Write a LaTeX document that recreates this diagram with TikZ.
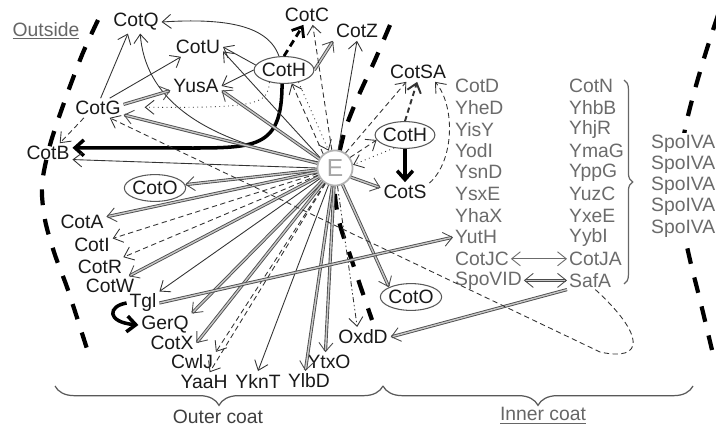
\documentclass[tikz,border=0pt]{standalone}
\usepackage{fontspec}
\setmainfont{Liberation Sans}
\usetikzlibrary{arrows.meta, shapes.geometric, decorations.pathreplacing}

\definecolor{labelgray}{gray}{0.42}
\definecolor{linegray}{gray}{0.2}

\tikzset{
  lbl/.style={font=\fontsize{11}{13}\selectfont, inner sep=1.5pt, text=black!90},
  graylbl/.style={lbl, text=labelgray, anchor=west, inner sep=1pt},
  ringlbl/.style={lbl, draw=black!65, line width=0.6pt, ellipse, inner xsep=-0.5pt, inner ysep=1.5pt, fill=white},
  barb/.style={-{Straight Barb[length=5pt,width=8pt]}},
  twobarb/.style={{Straight Barb[length=5pt,width=8pt]}-{Straight Barb[length=5pt,width=8pt]}},
  plainarr/.style={barb, draw=linegray, line width=0.5pt},
  dasharr/.style={plainarr, dash pattern=on 3pt off 2pt},
  dotarr/.style={plainarr, dotted},
  dashdotarr/.style={plainarr, dash pattern=on 3pt off 1.5pt on 0.8pt off 1.5pt on 0.8pt off 1.5pt},
  dblarr/.style={barb, draw=black!70, double=black!22, double distance=0.8pt, line width=0.5pt},
  heavyarr/.style={-{Straight Barb[length=5pt,width=9pt]}, draw=black, line width=2pt},
  heavydash/.style={barb, draw=black, line width=1.6pt, dash pattern=on 4pt off 2.5pt},
  layerline/.style={draw=black, line width=2.4pt, dash pattern=on 9pt off 8pt},
  coatbrace/.style={decorate, decoration={brace, amplitude=11pt, mirror}, draw=black!65, line width=0.7pt},
}

\begin{document}
\begin{tikzpicture}[x=0.02cm, y=-0.02cm]
    \useasboundingbox (0,0) rectangle (716,429);

    % Layer boundaries
    \draw[layerline] plot[smooth] coordinates {(98,20) (82,55) (65,100) (50,145) (42,185) (45,220) (55,255) (68,290) (88,352)};
    \draw[layerline] plot[smooth] coordinates {(390,25) (375,60) (358,97) (345,130) (337,165) (335,195) (340,225) (350,255) (360,285) (372,320)};
    \draw[layerline] plot[smooth] coordinates {(718,15) (705,55) (692,100) (684,135) (680,180) (683,225) (690,260) (700,300) (712,350)};

    % Outer coat proteins
    \node[lbl, text=black!60] (Outside) at (46,31) {\underline{Outside}};
    \node[lbl] (CotQ) at (136,22) {CotQ};
    \node[lbl] (CotU) at (198,47) {CotU};
    \node[lbl] (YusA) at (196,86) {YusA};
    \node[lbl] (CotG) at (98,108) {CotG};
    \node[lbl] (CotB) at (48,153) {CotB};
    \node[ringlbl] (CotO1) at (155,188) {CotO};
    \node[lbl] (CotC) at (307,15) {CotC};
    \node[lbl] (CotZ) at (357,31) {CotZ};
    \node[ringlbl] (CotH1) at (284,70) {CotH};
    \node[lbl] (CotA) at (82,222) {CotA};
    \node[lbl] (CotI) at (92,245) {CotI};
    \node[lbl] (CotR) at (100,267) {CotR};
    \node[lbl] (CotW) at (110,286) {CotW};
    \node[lbl] (Tgl) at (143,303) {Tgl};
    \node[lbl] (GerQ) at (165,325) {GerQ};
    \node[lbl] (CotX) at (172,343) {CotX};
    \node[lbl] (CwlJ) at (192,362) {CwlJ};
    \node[lbl] (YaaH) at (204,382) {YaaH};
    \node[lbl] (YknT) at (258,381) {YknT};
    \node[lbl] (YlbD) at (309,381) {YlbD};
    \node[lbl] (YtxO) at (329,362) {YtxO};
    \node[lbl] (OxdD) at (363,337) {OxdD};

    % Inner coat proteins
    \node[lbl] (CotSA) at (418,72) {CotSA};
    \node[ringlbl] (CotH2) at (405,135) {CotH};
    \node[lbl] (CotS) at (405,192) {CotS};
    \node[ringlbl] (CotO2) at (411,297) {CotO};
    \foreach \name [count=\i from 0] in {CotD,YheD,YisY,YodI,YsnD,YsxE,YhaX,YutH,CotJC,SpoVID}
        \node[graylbl] (\name) at (453,{86+21.6*\i}) {\name};
    \foreach \name [count=\i from 0] in {CotN,YhbB,YhjR,YmaG,YppG,YuzC,YxeE,YybI,CotJA,SafA}
        \node[graylbl] (\name) at (567,{86+21.6*\i}) {\name};
    \foreach \y [count=\i] in {144,165,186,207,229}
        \node[graylbl, fill=white] (SpoIVA\i) at (649,\y) {SpoIVA};

    % E in the middle
    \node[circle, draw=black!30, line width=1pt, fill=white, minimum size=20pt, inner sep=0pt,
          text=black!35, font=\fontsize{14}{14}\selectfont] (E) at (335,168) {E};

    % Braces and layer names
    \draw[decorate, decoration={brace, amplitude=5pt}, draw=black!60, line width=0.7pt] (624,80) -- (624,284);
    \draw[coatbrace] (55,386) -- (383,386);
    \draw[coatbrace] (383,386) -- (693,386);
    \node[lbl, text=black!75] (OuterCoat) at (218,417) {Outer coat};
    \node[lbl, text=black!60] (InnerCoat) at (543,416) {\underline{Inner coat}};

    % Arrows around the upper CotH
    \draw[plainarr] (CotH1.110) .. controls (268,25) and (225,18) .. (CotQ.east);
    \draw[plainarr] (CotH1.170) -- (CotU.east);
    \draw[plainarr] (CotH1.west) -- (YusA.east);
    \draw[dblarr] (CotH1.east) -- (CotZ.south west);
    \draw[heavydash] (CotH1.north) -- (CotC.250);
    \draw[dotarr] (CotH1.320) -- (E.110);
    \draw[dasharr] (E.130) -- (CotH1.300);
    \draw[dotarr, shorten >=12pt] (CotH1.220) .. controls (268,105) and (255,108) .. (CotG.2);
    \draw[heavyarr] (CotH1.262) .. controls (282,150) and (255,148) .. (180,148) -- (CotB.12);

    % Arrows from E to the upper left
    \draw[dasharr] (E.100) -- (CotC.300);
    \draw[plainarr] (E.80) -- (CotZ.south);
    \draw[plainarr] (E.160) .. controls (195,140) and (145,95) .. (CotQ.290);
    \draw[plainarr] (E.145) -- (CotU.-10);
    \draw[dblarr] (E.150) -- (YusA.-10);
    \draw[dblarr] (E.165) -- (CotG.-15);
    \draw[plainarr] (E.180) -- (CotB.-15);

    % Arrows from CotG
    \draw[plainarr] (CotG.75) -- (CotQ.235);
    \draw[plainarr] (CotG.40) -- (CotU.210);
    \draw[dblarr] (CotG.8) -- (YusA.190);
    \draw[dasharr] (CotG.215) -- (CotB.40);

    % Arrows from E to the lower left
    \foreach \t in {CotO1, CotA, CotW, GerQ.north east, CotX.east, YlbD.110, YtxO.110, CotO2.north west}
        \draw[dblarr] (E) -- (\t);
    \foreach \t in {CotI, CotR, CwlJ.north east, YaaH.60}
        \draw[dasharr] (E) -- (\t);
    \draw[plainarr] (E) -- (Tgl);
    \draw[plainarr] (E) -- (YknT.north);
    \draw[dashdotarr] (E) -- (OxdD.120);
    \draw[heavyarr] (Tgl.west) .. controls (108,306) and (106,322) .. (GerQ.west);
    \draw[dblarr] (Tgl.east) -- (YutH.west);

    % Arrows to the inner coat
    \draw[dasharr] (E.55) -- (CotSA.220);
    \draw[dasharr] (E.35) -- (CotH2.190);
    \draw[dotarr] (CotH2.230) -- (E.10);
    \draw[dblarr] (E.-30) -- (CotS.170);
    \draw[heavyarr] (CotH2.south) -- (CotS.north);
    \draw[dasharr, line width=1.1pt] (CotH2.north) -- (CotSA.265);
    \draw[dasharr] (CotS.20) .. controls (455,160) and (455,105) .. (CotSA.-30);
    \draw[dblarr] (SafA.south west) -- (OxdD.east);
    \draw[dasharr] (SafA.300) .. controls (645,335) and (645,362) .. (600,352) -- (CotG.-40);
    \draw[plainarr, draw=labelgray, twobarb] (CotJC) -- (CotJA);
    \draw[dblarr, twobarb] (SpoVID) -- (SafA);
\end{tikzpicture}
\end{document}
